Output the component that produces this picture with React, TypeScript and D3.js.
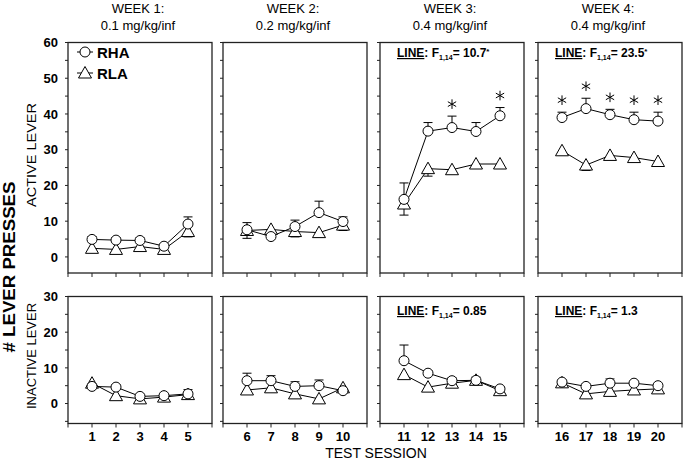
import React from "react";
import * as d3 from "d3";

// sessions grouped by week
const weekSessions = [
  [1, 2, 3, 4, 5],
  [6, 7, 8, 9, 10],
  [11, 12, 13, 14, 15],
  [16, 17, 18, 19, 20],
];
const weekTitles = ["WEEK 1:", "WEEK 2:", "WEEK 3:", "WEEK 4:"];
const weekDoses = ["0.1 mg/kg/inf", "0.2 mg/kg/inf", "0.4 mg/kg/inf", "0.4 mg/kg/inf"];

// active lever, means and SEM (RHA error drawn up, RLA drawn down)
const activeRHA = [4.9, 4.7, 4.6, 3.0, 9.2, 7.6, 5.7, 8.5, 12.4, 9.9, 16.1, 35.2, 36.2, 35.1, 39.5, 39.0, 41.5, 39.8, 38.4, 38.0];
const activeRHASem = [0.8, 0.7, 0.7, 0.5, 2.0, 2.0, 1.0, 1.8, 3.2, 1.3, 4.6, 2.4, 3.2, 2.5, 2.3, 1.5, 2.9, 1.5, 2.1, 2.5];
const activeRLA = [2.4, 2.1, 2.9, 2.1, 7.1, 7.4, 7.7, 7.1, 6.8, 8.9, 14.8, 24.7, 24.4, 26.0, 26.0, 29.7, 25.7, 28.4, 27.8, 26.7];
const activeRLASem = [0.8, 0.8, 0.8, 0.6, 1.5, 2.2, 0.8, 1.5, 1.2, 1.5, 3.1, 2.1, 1.0, 0.8, 0.8, 0.5, 1.5, 0.7, 0.6, 0.6];

// inactive lever
const inactiveRHA = [4.8, 4.6, 2.0, 2.2, 2.7, 6.4, 6.4, 4.8, 5.0, 3.6, 12.0, 8.5, 6.4, 6.5, 4.1, 6.0, 4.8, 5.7, 5.7, 5.0];
const inactiveRHASem = [0.5, 0.6, 0.5, 0.5, 1.2, 2.1, 1.4, 1.3, 1.6, 0.5, 4.4, 0.6, 0.8, 0.9, 0.5, 0.5, 0.6, 1.2, 0.5, 0.6];
const inactiveRLA = [5.7, 2.2, 1.3, 1.8, 2.5, 3.8, 4.4, 2.7, 1.3, 4.4, 8.1, 4.6, 5.7, 6.5, 3.6, 5.8, 2.7, 3.4, 3.8, 4.1];
const inactiveRLASem = [0.8, 0.8, 0.6, 0.6, 0.6, 0.8, 0.8, 0.8, 0.8, 0.5, 0.5, 0.8, 0.5, 0.5, 0.6, 0.5, 0.8, 0.8, 0.6, 0.6];

// LINE main effect stats and significant sessions (active lever)
const activeStats = ["", "", "10.7", "23.5"];
const activeStatSig = [false, false, true, true];
const inactiveStats = ["", "", "0.85", "1.3"];
const sigSessions = [13, 15, 16, 17, 18, 19, 20];

const activeTicks = [0, 10, 20, 30, 40, 50, 60];
const inactiveTicks = [0, 10, 20, 30];

const W = 685;
const H = 462;
const panelLeft = [68, 223, 380, 538];
const panelW = 144;
const font = "'Liberation Sans', Arial, sans-serif";

const trianglePath = (x: number, y: number) =>
  `M${x},${y - 6.5}L${x + 6.5},${y + 5}L${x - 6.5},${y + 5}Z`;

const Asterisk = ({ x, y }: { x: number; y: number }) => {
  const r = 4.8;
  const a = r * Math.cos(Math.PI / 6);
  const b = r * Math.sin(Math.PI / 6);
  return (
    <g stroke="#000" strokeWidth={1}>
      <line x1={x} y1={y - r} x2={x} y2={y + r} />
      <line x1={x - a} y1={y - b} x2={x + a} y2={y + b} />
      <line x1={x - a} y1={y + b} x2={x + a} y2={y - b} />
    </g>
  );
};

type RowProps = {
  top: number;
  bottom: number;
  domain: [number, number];
  ticks: number[];
  rha: number[];
  rhaSem: number[];
  rla: number[];
  rlaSem: number[];
  stats: string[];
  statSig: boolean[];
  statY: number;
  sig: number[];
};

const Row = ({ top, bottom, domain, ticks, rha, rhaSem, rla, rlaSem, stats, statSig, statY, sig }: RowProps) => {
  const y = d3.scaleLinear().domain(domain).range([bottom, top]);
  const minor = d3.range(Math.ceil(domain[0] / 5) * 5, domain[1] + 0.1, 5);
  return (
    <g>
      {weekSessions.map((sess, w) => {
        const left = panelLeft[w];
        const x = d3.scaleLinear().domain([sess[0] - 1, sess[0] + 5]).range([left, left + panelW]);
        const idx = sess.map((s) => s - 1);
        const rhaLine = d3.line<number>().x((i) => x(i + 1)).y((i) => y(rha[i]));
        const rlaLine = d3.line<number>().x((i) => x(i + 1)).y((i) => y(rla[i]));
        return (
          <g key={w}>
            <rect x={left} y={top} width={panelW} height={bottom - top} fill="none" stroke="#222" strokeWidth={1.3} />
            {/* y ticks */}
            {minor.map((t) => (
              <line key={"yt" + t} x1={left - 3} x2={left} y1={y(t)} y2={y(t)} stroke="#222" strokeWidth={1} />
            ))}
            {/* x ticks */}
            {d3.range(sess[0] - 1, sess[0] + 6).map((t) => (
              <line key={"xt" + t} x1={x(t)} x2={x(t)} y1={bottom} y2={bottom + 4} stroke="#222" strokeWidth={1} />
            ))}
            {w === 0 &&
              ticks.map((t) => (
                <text key={"yl" + t} x={58} y={y(t)} dy="0.36em" textAnchor="end" fontSize={13} fontWeight="bold" fontFamily={font}>
                  {t}
                </text>
              ))}
            <path d={rlaLine(idx) || ""} fill="none" stroke="#000" strokeWidth={1} />
            <path d={rhaLine(idx) || ""} fill="none" stroke="#000" strokeWidth={1} />
            {idx.map((i) => (
              <g key={"e" + i} stroke="#000" strokeWidth={1}>
                <line x1={x(i + 1)} x2={x(i + 1)} y1={y(rla[i])} y2={y(rla[i] - rlaSem[i])} />
                <line x1={x(i + 1) - 4.5} x2={x(i + 1) + 4.5} y1={y(rla[i] - rlaSem[i])} y2={y(rla[i] - rlaSem[i])} />
                <line x1={x(i + 1)} x2={x(i + 1)} y1={y(rha[i])} y2={y(rha[i] + rhaSem[i])} />
                <line x1={x(i + 1) - 4.5} x2={x(i + 1) + 4.5} y1={y(rha[i] + rhaSem[i])} y2={y(rha[i] + rhaSem[i])} />
              </g>
            ))}
            {idx.map((i) => (
              <path key={"t" + i} d={trianglePath(x(i + 1), y(rla[i]))} fill="#fff" stroke="#000" strokeWidth={1} />
            ))}
            {idx.map((i) => (
              <circle key={"c" + i} cx={x(i + 1)} cy={y(rha[i])} r={5} fill="#fff" stroke="#000" strokeWidth={1} />
            ))}
            {idx
              .filter((i) => sig.includes(i + 1))
              .map((i) => (
                <Asterisk key={"s" + i} x={x(i + 1)} y={y(rha[i] + rhaSem[i]) - 12} />
              ))}
            {stats[w] && (
              <text x={left + 17} y={statY} fontSize={12} fontWeight="bold" fontFamily={font}>
                <tspan textDecoration="underline">LINE</tspan>
                <tspan>: F</tspan>
                <tspan fontSize={7} dy={3}>1,14</tspan>
                <tspan dy={-3}>{"= " + stats[w]}</tspan>
                {statSig[w] && (
                  <tspan fontSize={8} dy={-3}>*</tspan>
                )}
              </text>
            )}
          </g>
        );
      })}
    </g>
  );
};

export default function App() {
  return (
    <svg width={W} height={H} style={{ position: "absolute", left: 0, top: 0, background: "#fff" }}>
      <rect width={W} height={H} fill="#fff" />
      {weekTitles.map((t, w) => (
        <g key={t + w} fontFamily={font} fontSize={13} textAnchor="middle">
          <text x={panelLeft[w] + panelW / 2 - 2} y={13}>{t}</text>
          <text x={panelLeft[w] + panelW / 2 - 2} y={30}>{weekDoses[w]}</text>
        </g>
      ))}
      <Row
        top={42.5}
        bottom={273}
        domain={[-4.5, 60]}
        ticks={activeTicks}
        rha={activeRHA}
        rhaSem={activeRHASem}
        rla={activeRLA}
        rlaSem={activeRLASem}
        stats={activeStats}
        statSig={activeStatSig}
        statY={57}
        sig={sigSessions}
      />
      <Row
        top={296.5}
        bottom={423.5}
        domain={[-5.6, 30]}
        ticks={inactiveTicks}
        rha={inactiveRHA}
        rhaSem={inactiveRHASem}
        rla={inactiveRLA}
        rlaSem={inactiveRLASem}
        stats={inactiveStats}
        statSig={[false, false, false, false]}
        statY={315}
        sig={[]}
      />
      {/* legend */}
      <g fontFamily={font} fontSize={15} fontWeight="bold">
        <line x1={77} x2={93} y1={52} y2={52} stroke="#000" />
        <circle cx={85} cy={52} r={5} fill="#fff" stroke="#000" />
        <text x={97} y={57.5}>RHA</text>
        <line x1={77} x2={93} y1={73} y2={73} stroke="#000" />
        <path d={trianglePath(85, 73)} fill="#fff" stroke="#000" />
        <text x={97} y={78.5}>RLA</text>
      </g>
      {/* axis titles */}
      <text transform="translate(36,155) rotate(-90)" textAnchor="middle" fontFamily={font} fontSize={12} textLength={104} lengthAdjust="spacingAndGlyphs">
        ACTIVE LEVER
      </text>
      <text transform="translate(36,356) rotate(-90)" textAnchor="middle" fontFamily={font} fontSize={12} textLength={106} lengthAdjust="spacingAndGlyphs">
        INACTIVE LEVER
      </text>
      <text transform="translate(15,267) rotate(-90)" textAnchor="middle" fontFamily={font} fontSize={16} fontWeight="bold" textLength={171} lengthAdjust="spacingAndGlyphs">
        # LEVER PRESSES
      </text>
      {weekSessions.flat().map((s) => {
        const w = Math.floor((s - 1) / 5);
        const x = d3.scaleLinear().domain([weekSessions[w][0] - 1, weekSessions[w][0] + 5]).range([panelLeft[w], panelLeft[w] + panelW]);
        return (
          <text key={"xl" + s} x={x(s)} y={441} textAnchor="middle" fontFamily={font} fontSize={13} fontWeight="bold">
            {s}
          </text>
        );
      })}
      <text x={376} y={458} textAnchor="middle" fontFamily={font} fontSize={14}>
        TEST SESSION
      </text>
    </svg>
  );
}
